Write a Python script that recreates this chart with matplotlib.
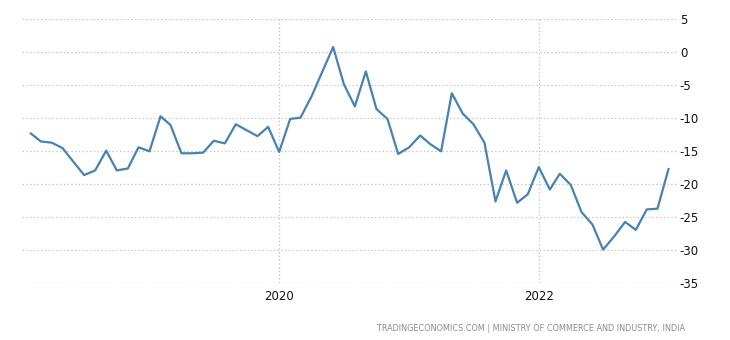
import numpy as np
import matplotlib.pyplot as plt
import matplotlib.dates as mdates
import pandas as pd

plt.rcParams['axes.unicode_minus'] = False

#%% data
months = pd.date_range('2018-02-01', '2023-01-01', freq='MS')

values = [
    # 2018 (Feb-Dec)
    -12.3, -13.5, -13.7, -14.5, -16.6, -18.6, -17.9, -14.9, -17.9, -17.6, -14.4,
    # 2019
    -15.0, -9.7, -11.0, -15.3, -15.3, -15.2, -13.4, -13.8, -10.9, -11.8, -12.7, -11.3,
    # 2020
    -15.1, -10.1, -9.9, -6.7, -3.0, 0.8, -4.8, -8.2, -2.9, -8.6, -10.1, -15.4,
    # 2021
    -14.4, -12.6, -13.9, -15.0, -6.2, -9.3, -10.9, -13.7, -22.6, -17.9, -22.8, -21.5,
    # 2022
    -17.4, -20.8, -18.4, -20.1, -24.2, -26.1, -29.9, -27.9, -25.7, -26.9, -23.8, -23.7,
    # 2023
    -17.7,
]

y_ticks = [5, 0, -5, -10, -15, -20, -25, -30, -35]
x_ticks = ['2020-01-01', '2022-01-01']
source = 'TRADINGECONOMICS.COM | MINISTRY OF COMMERCE AND INDUSTRY, INDIA'

#%% plot
fig = plt.figure(figsize=(7.3, 3.4), dpi=100)
ax = fig.add_axes([0.0301, 0.1668, 0.8973, 0.7764])

ax.plot(months, values, color='#4682b4', linewidth=1.6)

ax.set_ylim(-35, 5)
ax.set_yticks(y_ticks)
ax.set_xlim(pd.Timestamp('2018-01-07'), pd.Timestamp('2023-01-25'))
ax.set_xticks(pd.to_datetime(x_ticks))
ax.xaxis.set_major_formatter(mdates.DateFormatter('%Y'))

ax.yaxis.tick_right()
ax.tick_params(axis='both', length=0, labelsize=8.5, colors='#111122')
ax.tick_params(axis='y', pad=2)
ax.tick_params(axis='x', pad=5)

ax.grid(True, color='#c8c8c8', linestyle=(0, (1.2, 1.8)), linewidth=0.9)
for s in ax.spines.values():
    s.set_visible(False)

fig.text(0.938, 0.035, source, ha='right', va='center', fontsize=5.9, color='#8a8a8a')

plt.savefig('out.png', dpi=100)
